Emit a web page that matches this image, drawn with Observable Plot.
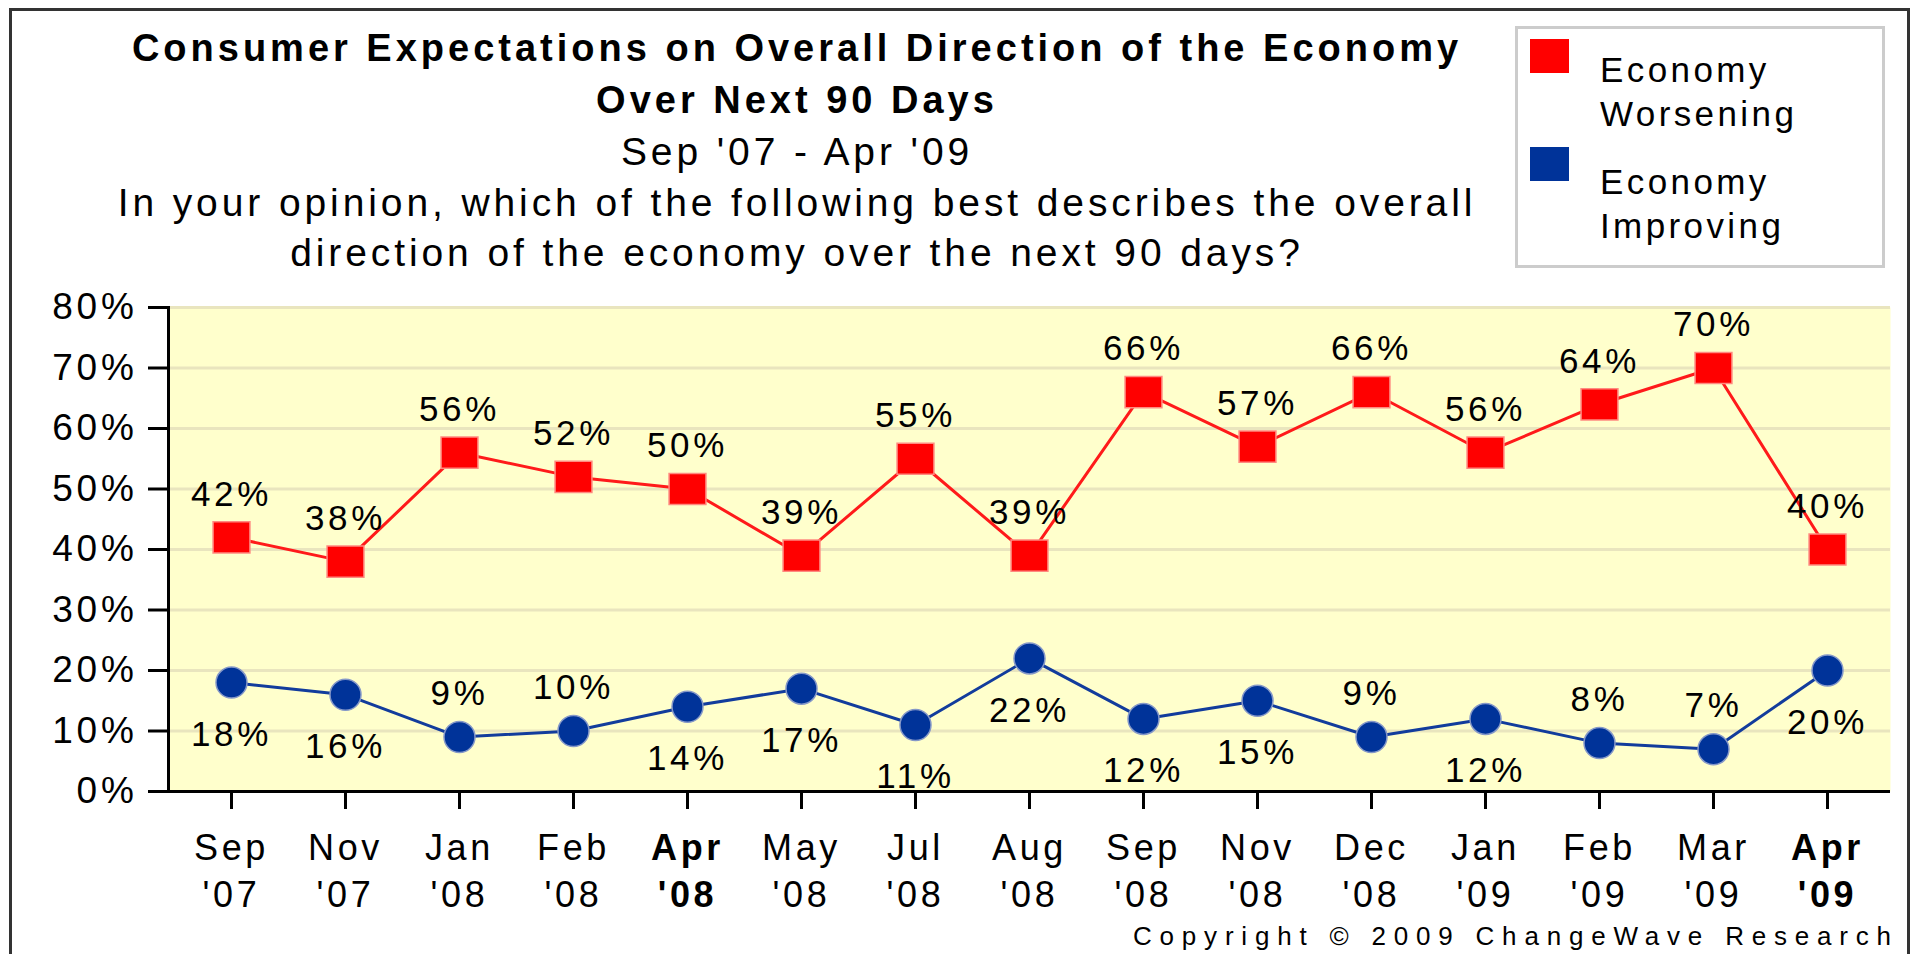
<!DOCTYPE html>
<html>
<head>
<meta charset="utf-8">
<script src="https://cdn.jsdelivr.net/npm/d3@7"></script>
<script src="https://cdn.jsdelivr.net/npm/@observablehq/plot@0.6"></script>
<style>
  html, body { margin: 0; padding: 0; background: #ffffff; }
  #wrap { position: relative; width: 1911px; height: 954px; overflow: hidden; background: #ffffff;
          font-family: "Liberation Sans", Arial, sans-serif; color: #000; }
  #chart { position: absolute; left: 0; top: 0; }
  .border { position: absolute; left: 9px; top: 8px; width: 1895px; height: 960px;
            border: 3px solid #333333; box-sizing: content-box; pointer-events: none; }
  .tline { position: absolute; left: 0; width: 1594px; text-align: center; line-height: 1; white-space: nowrap; }
  .t1 { font-size: 38px; font-weight: bold; letter-spacing: 4px; }
  .t2 { font-size: 39px; letter-spacing: 3.9px; }
  .legend { position: absolute; left: 1515px; top: 26px; width: 364px; height: 236px; border: 3px solid #cccccc; background: #fff; }
  .sw { position: absolute; width: 39px; height: 34px; }
  .lt { position: absolute; font-size: 35px; letter-spacing: 3.4px; line-height: 1; white-space: nowrap; }
  .copy { position: absolute; left: 1133px; font-size: 26px; letter-spacing: 7.8px; line-height: 1; white-space: nowrap; }
</style>
</head>
<body>
<div id="wrap">
  <div id="chart"></div>
  <div class="tline t1" id="title1" style="top:29px"></div>
  <div class="tline t1" id="title2" style="top:81px"></div>
  <div class="tline t2" id="sub1" style="top:132px"></div>
  <div class="tline t2" id="q1" style="top:183px"></div>
  <div class="tline t2" id="q2" style="top:233px"></div>
  <div class="legend" id="legend"></div>
  <div class="copy" id="copy" style="top:923px"></div>
  <div class="border"></div>
</div>
<script>
// ---- data ----
const categories = ["Sep '07", "Nov '07", "Jan '08", "Feb '08", "Apr '08", "May '08", "Jul '08", "Aug '08",
                    "Sep '08", "Nov '08", "Dec '08", "Jan '09", "Feb '09", "Mar '09", "Apr '09"];
const worsening = [42, 38, 56, 52, 50, 39, 55, 39, 66, 57, 66, 56, 64, 70, 40];
const improving = [18, 16, 9, 10, 14, 17, 11, 22, 12, 15, 9, 12, 8, 7, 20];
const yTicks = [0, 10, 20, 30, 40, 50, 60, 70, 80];
const boldTicks = ["Apr '08", "Apr '09"];
const seriesNames = ["Economy Worsening", "Economy Improving"];
const titleLines = ["Consumer Expectations on Overall Direction of the Economy", "Over Next 90 Days"];
const subtitle = "Sep '07 - Apr '09";
const questionLines = ["In your opinion, which of the following best describes the overall",
                       "direction of the economy over the next 90 days?"];
const copyright = "Copyright \u00A9 2009 ChangeWave Research";

// ---- text ----
document.getElementById("title1").textContent = titleLines[0];
document.getElementById("title2").textContent = titleLines[1];
document.getElementById("sub1").textContent = subtitle;
document.getElementById("q1").textContent = questionLines[0];
document.getElementById("q2").textContent = questionLines[1];
document.getElementById("copy").textContent = copyright;

const colors = ["#FF0000", "#003399"];
const legend = document.getElementById("legend");
seriesNames.forEach((name, i) => {
  const sw = document.createElement("div");
  sw.className = "sw";
  sw.style.left = "12px";
  sw.style.top = (10 + i * 108) + "px";
  sw.style.background = colors[i];
  legend.appendChild(sw);
  name.split(" ").forEach((word, j) => {
    const t = document.createElement("div");
    t.className = "lt";
    t.style.left = "82px";
    t.style.top = (23 + i * 112 + j * 44) + "px";
    t.textContent = word;
    legend.appendChild(t);
  });
});

// ---- chart ----
const rows = categories.map((c, i) => ({cat: c, w: worsening[i], im: improving[i]}));
const normalTicks = categories.filter(c => !boldTicks.includes(c));

const rectSymbol = {
  draw(context, size) {
    const r = Math.sqrt(size / Math.PI);
    const w = r * 0.97, h = r * 0.82;
    context.rect(-w, -h, 2 * w, 2 * h);
  }
};

const fmtCat = d => d.replace(" ", "\n");

const chart = Plot.plot({
  width: 1911,
  height: 954,
  marginLeft: 168,
  marginRight: 21,
  marginTop: 307,
  marginBottom: 163,
  style: {fontFamily: "'Liberation Sans', Arial, sans-serif", color: "#000", background: "transparent",
          overflow: "visible", letterSpacing: "3.7px"},
  x: {type: "point", domain: categories, padding: 0.5, label: null},
  y: {domain: [0, 80], label: null},
  marks: [
    Plot.frame({fill: "#FFFFCC"}),
    Plot.ruleY(yTicks.filter(d => d > 0), {stroke: "#E9E5BE", strokeWidth: 3}),
    Plot.line(rows, {x: "cat", y: "w", stroke: "#FF1A1A", strokeWidth: 3}),
    Plot.line(rows, {x: "cat", y: "im", stroke: "#123C9C", strokeWidth: 3}),
    Plot.dot(rows, {x: "cat", y: "w", symbol: rectSymbol, r: 19, fill: "#FF0000", stroke: "#FF8A80", strokeWidth: 1.5}),
    Plot.dot(rows, {x: "cat", y: "im", r: 15.5, fill: "#003399", stroke: "#8598C8", strokeWidth: 1.5}),
    Plot.text(rows, {x: "cat", y: "w", text: d => d.w + "%", dy: -43, fontSize: 35, fill: "#000"}),
    Plot.text(rows.filter(d => d.im <= 10), {x: "cat", y: "im", text: d => d.im + "%", dy: -43, fontSize: 35, fill: "#000"}),
    Plot.text(rows.filter(d => d.im > 10), {x: "cat", y: "im", text: d => d.im + "%", dy: 52, fontSize: 35, fill: "#000"}),
    Plot.ruleY([0], {stroke: "#000", strokeWidth: 3}),
    Plot.frame({anchor: "left", stroke: "#000", strokeWidth: 3}),
    Plot.axisY({ticks: yTicks, tickFormat: d => d + "%", tickSize: 20, tickPadding: 11, fontSize: 37,
                stroke: "#000", strokeWidth: 3, fill: "#000", label: null}),
    Plot.axisX({ticks: normalTicks, tickFormat: fmtCat, tickSize: 18, tickPadding: 17, fontSize: 36,
                lineHeight: 1.3, stroke: "#000", strokeWidth: 3, fill: "#000", label: null}),
    Plot.axisX({ticks: boldTicks, tickFormat: fmtCat, tickSize: 18, tickPadding: 17, fontSize: 36,
                lineHeight: 1.3, fontWeight: "bold", stroke: "#000", strokeWidth: 3, fill: "#000", label: null})
  ]
});
document.getElementById("chart").appendChild(chart);
</script>
</body>
</html>
